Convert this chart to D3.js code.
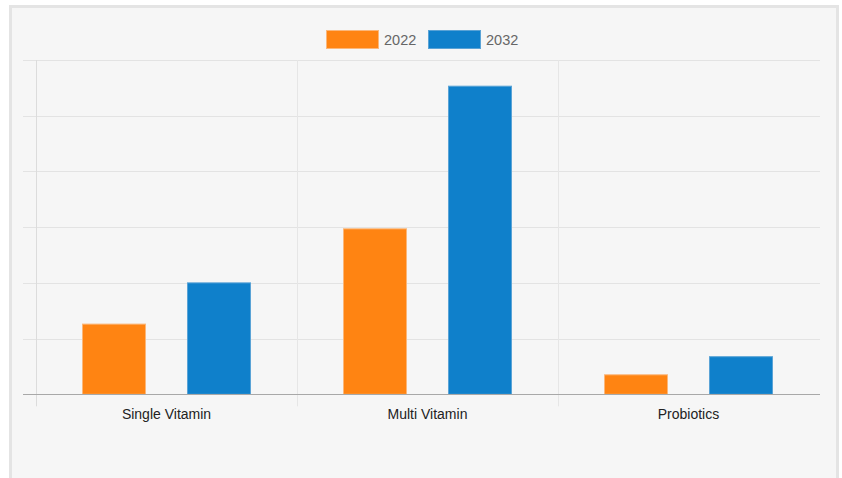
<!DOCTYPE html>
<html>
<head>
<meta charset="utf-8">
<script src="https://cdn.jsdelivr.net/npm/d3@7"></script>
<style>
  html, body { margin: 0; padding: 0; background: #fff; }
  #graph { position: absolute; left: 9px; top: 5px; width: 824px; height: 480px;
           background: #f6f6f6; border: 3px solid #e4e4e4; }
  svg { display: block; font-family: "Liberation Sans", Arial, sans-serif; }
</style>
</head>
<body>
<div id="graph"></div>
<script>
// chart values
var categories = ["Single Vitamin", "Multi Vitamin", "Probiotics"];
var seriesNames = ["2022", "2032"];
var values2022 = [1.26, 2.97, 0.35];
var values2032 = [2.0, 5.53, 0.675];
var colors = ["#ff8412", "#0f80cb"];
var yTicks = [0, 1, 2, 3, 4, 5, 6];

var data = categories.map((c, i) => ({ cat: c, vals: [values2022[i], values2032[i]] }));

// svg covers the inner box; coordinates offset by the box position
var ox = 12, oy = 8;
var margin = { top: 60 - oy, left: 36 - ox },
    width = 783,
    height = 334.3;

var svg = d3.select("#graph").append("svg")
    .attr("width", 824)
    .attr("height", 480);

var g = svg.append("g")
    .attr("transform", "translate(" + margin.left + "," + margin.top + ")");

// set the ranges
var x0 = d3.scaleBand()
    .domain(categories)
    .range([0, width]);
var x1 = d3.scaleBand()
    .domain([0, 1])
    .range([0, x0.bandwidth()])
    .paddingInner(0.4)
    .paddingOuter(0.443);
var y = d3.scaleLinear()
    .domain([0, 6])
    .range([height, 0]);

// horizontal grid lines
g.selectAll(".hgrid")
    .data(yTicks.slice(1))
    .enter().append("line")
    .attr("x1", -13)
    .attr("x2", width + 1)
    .attr("y1", d => Math.round(y(d)) + 0.5)
    .attr("y2", d => Math.round(y(d)) + 0.5)
    .attr("stroke", "#e3e3e3");

// vertical grid lines between categories
g.selectAll(".vgrid")
    .data(categories)
    .enter().append("line")
    .attr("x1", d => Math.round(x0(d)) + 0.5)
    .attr("x2", d => Math.round(x0(d)) + 0.5)
    .attr("y1", 0)
    .attr("y2", height + 12)
    .attr("stroke", d => d === categories[0] ? "#dcdcdc" : "#e6e6e6");

// bars
var groups = g.selectAll(".grp")
    .data(data)
    .enter().append("g")
    .attr("transform", d => "translate(" + x0(d.cat) + ",0)");

groups.selectAll("rect")
    .data(d => d.vals)
    .enter().append("rect")
    .attr("x", (d, i) => x1(i))
    .attr("width", x1.bandwidth())
    .attr("y", d => y(d))
    .attr("height", d => height - y(d))
    .attr("fill", (d, i) => colors[i])
    .attr("stroke", (d, i) => i === 0 ? "#fbb77a" : "#5aa3d6")
    .attr("stroke-width", 1);

// zero line
g.append("line")
    .attr("x1", -13)
    .attr("x2", width + 1)
    .attr("y1", Math.round(y(0)) + 0.5)
    .attr("y2", Math.round(y(0)) + 0.5)
    .attr("stroke", "#a8a8a8");

// category labels
g.selectAll(".xlab")
    .data(categories)
    .enter().append("text")
    .attr("x", d => x0(d) + x0.bandwidth() / 2)
    .attr("y", height + 25)
    .attr("text-anchor", "middle")
    .attr("font-size", "14px")
    .attr("fill", "#222")
    .text(d => d);

// legend
var legend = svg.append("g");
var legendX = [326 - ox, 428 - ox];
seriesNames.forEach((s, i) => {
    legend.append("rect")
        .attr("x", legendX[i] + 0.5)
        .attr("y", 30 - oy + 0.5)
        .attr("width", 52)
        .attr("height", 18)
        .attr("fill", colors[i])
        .attr("stroke", i === 0 ? "#fbb77a" : "#5aa3d6");
    legend.append("text")
        .attr("x", legendX[i] + 58)
        .attr("y", 44.5 - oy)
        .attr("font-size", "14.5px")
        .attr("fill", "#666")
        .text(s);
});
</script>
</body>
</html>
